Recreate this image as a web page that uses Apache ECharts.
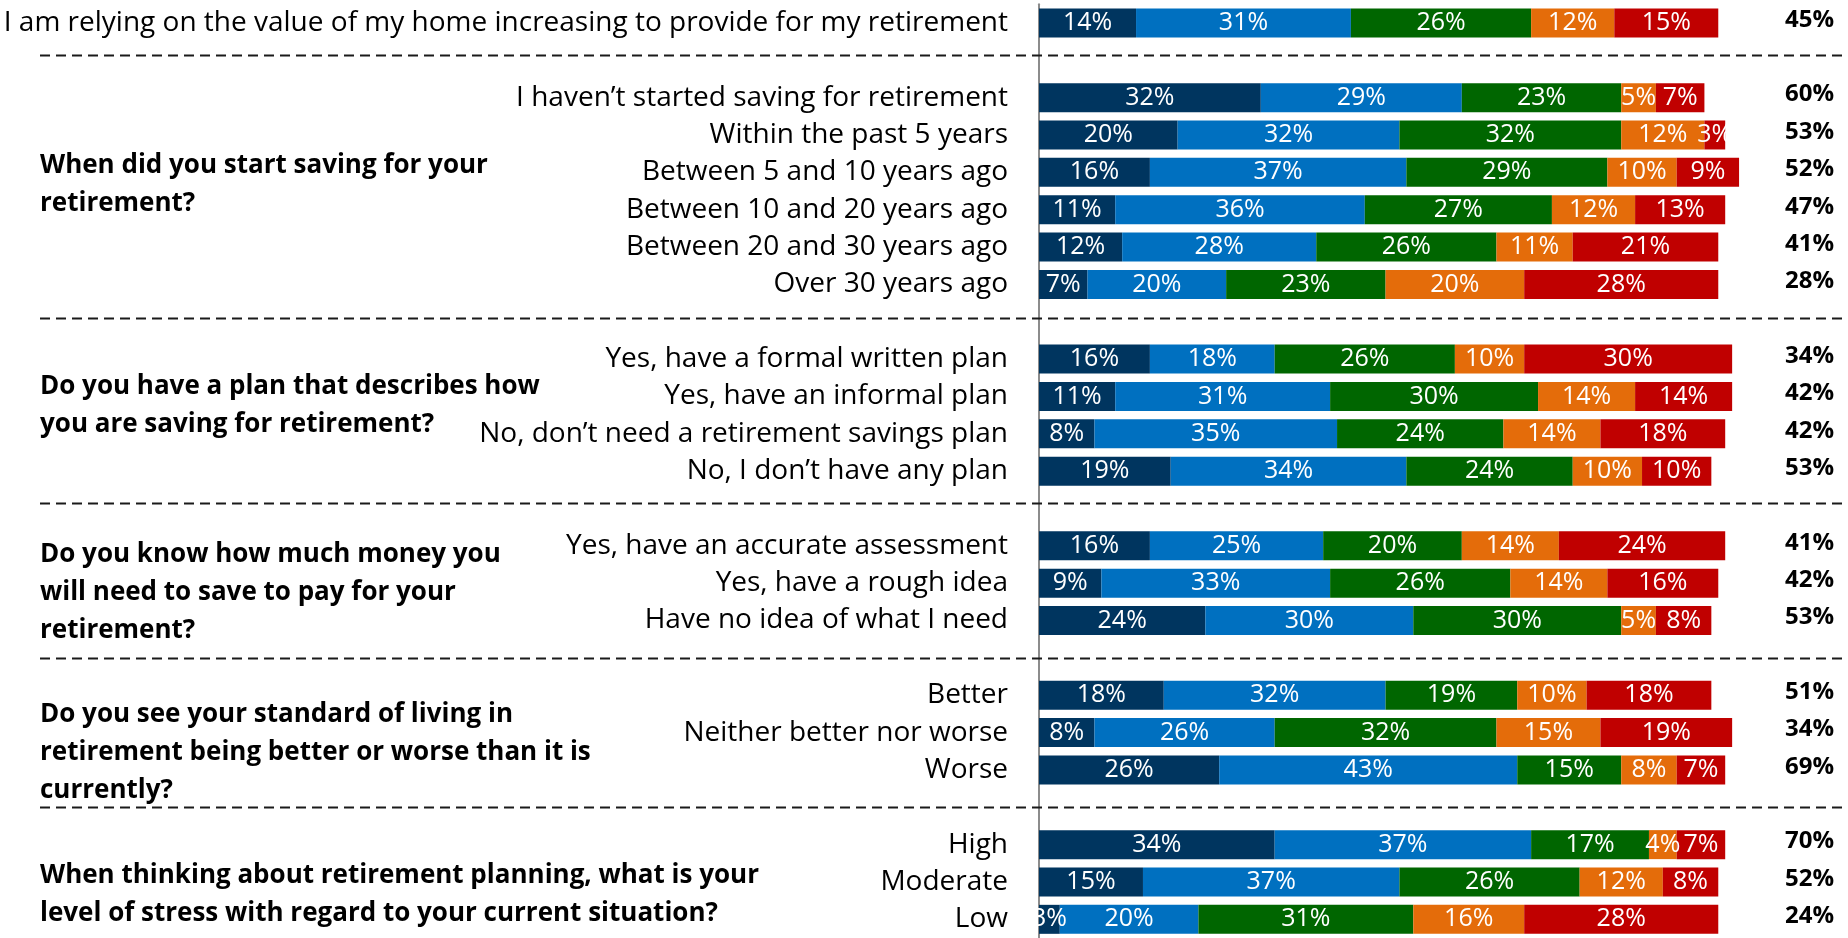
<!DOCTYPE html>
<html>
<head>
<meta charset="utf-8">
<script src="https://cdn.jsdelivr.net/npm/echarts@6/dist/echarts.min.js"></script>
<style>
  html, body { margin: 0; padding: 0; background: #ffffff; }
  #chart { width: 1848px; height: 938px; }
</style>
</head>
<body>
<div id="chart"></div>
<script>
// Row labels, top to bottom; null marks the blank row between question groups
const rowLabels = [
  'I am relying on the value of my home increasing to provide for my retirement',
  null,
  'I haven’t started saving for retirement',
  'Within the past 5 years',
  'Between 5 and 10 years ago',
  'Between 10 and 20 years ago',
  'Between 20 and 30 years ago',
  'Over 30 years ago',
  null,
  'Yes, have a formal written plan',
  'Yes, have an informal plan',
  'No, don’t need a retirement savings plan',
  'No, I don’t have any plan',
  null,
  'Yes, have an accurate assessment',
  'Yes, have a rough idea',
  'Have no idea of what I need',
  null,
  'Better',
  'Neither better nor worse',
  'Worse',
  null,
  'High',
  'Moderate',
  'Low'
];

// Share of respondents (%) for each response level
const stronglyAgree    = [14, null, 32, 20, 16, 11, 12,  7, null, 16, 11,  8, 19, null, 16,  9, 24, null, 18,  8, 26, null, 34, 15,  3];
const somewhatAgree    = [31, null, 29, 32, 37, 36, 28, 20, null, 18, 31, 35, 34, null, 25, 33, 30, null, 32, 26, 43, null, 37, 37, 20];
const neutral          = [26, null, 23, 32, 29, 27, 26, 23, null, 26, 30, 24, 24, null, 20, 26, 30, null, 19, 32, 15, null, 17, 26, 31];
const somewhatDisagree = [12, null,  5, 12, 10, 12, 11, 20, null, 10, 14, 14, 10, null, 14, 14,  5, null, 10, 15,  8, null,  4, 12, 16];
const stronglyDisagree = [15, null,  7,  3,  9, 13, 21, 28, null, 30, 14, 18, 10, null, 24, 16,  8, null, 18, 19,  7, null,  7,  8, 28];

// Combined agree share shown at the right of each bar
const topTwo = [45, null, 60, 53, 52, 47, 41, 28, null, 34, 42, 42, 53, null, 41, 42, 53, null, 51, 34, 69, null, 70, 52, 24];

// Question text for each group of rows (nudge shifts the block in row units)
const questions = [
  { text: 'When did you start saving for your\nretirement?', from: 2, to: 7, nudge: -0.39 },
  { text: 'Do you have a plan that describes how\nyou are saving for retirement?', from: 9, to: 12, nudge: -0.46 },
  { text: 'Do you know how much money you\nwill need to save to pay for your\nretirement?', from: 14, to: 16, nudge: 0.04 },
  { text: 'Do you see your standard of living in\nretirement being better or worse than it is\ncurrently?', from: 18, to: 20, nudge: 0.32 },
  { text: 'When thinking about retirement planning, what is your\nlevel of stress with regard to your current situation?', from: 22, to: 24, nudge: 0.13 }
];

// Dashed separators sit in the blank rows between groups (row units)
const separators = [0.87, 7.89, 12.85, 17.0, 21.0];

const levels = [
  { name: 'Strongly agree',    data: stronglyAgree,    color: '#00355F' },
  { name: 'Somewhat agree',    data: somewhatAgree,    color: '#0070C0' },
  { name: 'Neutral',           data: neutral,          color: '#006600' },
  { name: 'Somewhat disagree', data: somewhatDisagree, color: '#E46C0A' },
  { name: 'Strongly disagree', data: stronglyDisagree, color: '#C00000' }
];

const FONT = '"Open Sans", "Noto Sans", sans-serif';
const categories = rowLabels.map((r, i) => (r === null ? 'blank' + i : r));

const chart = echarts.init(document.getElementById('chart'), null, { renderer: 'canvas' });

chart.setOption({
  animation: false,
  backgroundColor: '#ffffff',
  grid: { left: 1039, top: 4.25, width: 707, height: 937.5 },
  xAxis: {
    type: 'value', min: 0, max: 102, show: false
  },
  yAxis: [
    {
      type: 'category',
      data: categories,
      inverse: true,
      axisLine: { show: true, lineStyle: { color: '#8c8c8c', width: 2 } },
      axisTick: { show: false },
      splitLine: { show: false },
      axisLabel: {
        margin: 31,
        color: '#000000',
        fontFamily: FONT,
        fontSize: 28,
        formatter: v => (v.startsWith('blank') ? '' : v)
      }
    },
    {
      type: 'category',
      data: categories,
      inverse: true,
      position: 'right',
      axisLine: { show: false },
      axisTick: { show: false },
      splitLine: { show: false },
      axisLabel: {
        margin: 39,
        color: '#000000',
        fontFamily: FONT,
        fontSize: 24,
        fontWeight: 'bold',
        verticalAlign: 'bottom',
        lineHeight: 6,
        formatter: (v, i) => (topTwo[i] == null ? '' : topTwo[i] + '%')
      }
    }
  ],
  series: levels.map(l => ({
    name: l.name,
    type: 'bar',
    stack: 'total',
    barWidth: 29,
    data: l.data,
    itemStyle: { color: l.color },
    label: {
      show: true,
      position: 'inside',
      color: '#ffffff',
      fontFamily: FONT,
      fontSize: 25,
      formatter: p => (p.value == null ? '' : p.value + '%')
    }
  }))
});

// Pixel position of a (possibly fractional) row, interpolated between category slots
const rowY = v => {
  const i = Math.floor(v);
  const f = v - i;
  const a = chart.convertToPixel({ yAxisIndex: 0 }, i);
  if (!f) return a;
  const b = chart.convertToPixel({ yAxisIndex: 0 }, i + 1);
  return a + (b - a) * f;
};

const graphics = [];
separators.forEach(s => {
  const y = Math.round(rowY(s)) + 0.5;
  graphics.push({
    type: 'line',
    shape: { x1: 40, y1: y, x2: 1848, y2: y },
    style: { stroke: '#1a1a1a', lineWidth: 2, lineDash: [10, 6] },
    z: 10
  });
});
questions.forEach(q => {
  const y = rowY((q.from + q.to) / 2 + q.nudge) + 8;
  graphics.push({
    type: 'text',
    x: 40,
    y: y,
    style: {
      text: q.text,
      fill: '#000000',
      font: 'bold 26px ' + FONT,
      lineHeight: 38,
      verticalAlign: 'middle',
      align: 'left'
    },
    z: 10
  });
});
chart.setOption({ graphic: graphics });
</script>
</body>
</html>
